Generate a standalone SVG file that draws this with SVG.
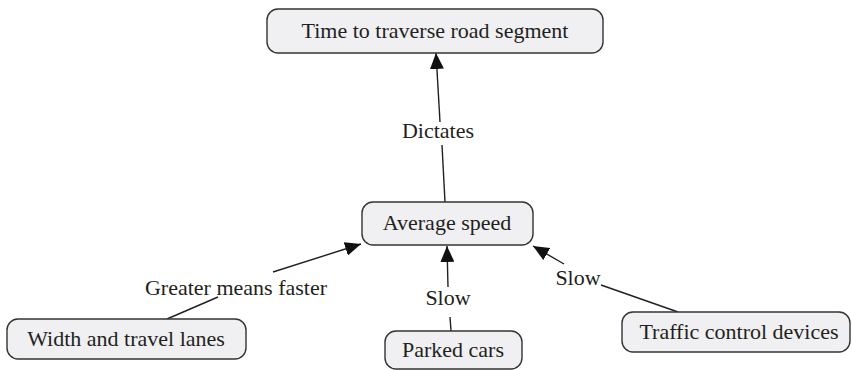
<svg xmlns="http://www.w3.org/2000/svg" width="852" height="370" viewBox="0 0 852 370">
<style>
.node rect{fill:#f0f0f2;stroke:#333;stroke-width:1.4}
text{font-family:"Liberation Serif","Times New Roman",serif;font-size:22px;fill:#231f20;text-anchor:middle}
.conn line{stroke:#231f20;stroke-width:1.4}
</style>
<defs>
<marker id="ah" viewBox="0 0 16 14" markerWidth="16" markerHeight="14" refX="16" refY="7" orient="auto" markerUnits="userSpaceOnUse">
<path d="M0,0 L16,7 L0,14 z" fill="#111"/>
</marker>
</defs>
<rect width="852" height="370" fill="#fff"/>
<g class="conn">
<line x1="445" y1="202" x2="442" y2="145"/>
<line x1="440" y1="122" x2="436" y2="53" marker-end="url(#ah)"/>
<line x1="167" y1="319" x2="218" y2="297"/>
<line x1="273" y1="272" x2="361" y2="244" marker-end="url(#ah)"/>
<line x1="451" y1="331" x2="450" y2="317"/>
<line x1="448" y1="287" x2="447" y2="246" marker-end="url(#ah)"/>
<line x1="678" y1="312" x2="601" y2="285"/>
<line x1="564" y1="264" x2="533" y2="246" marker-end="url(#ah)"/>
<text x="438" y="138">Dictates</text>
<text x="236" y="295">Greater means faster</text>
<text x="448" y="305">Slow</text>
<text x="578" y="285">Slow</text>
</g>
<g id="n_time" class="node">
<rect x="267" y="9" width="336" height="44" rx="11"/>
<text x="435" y="38">Time to traverse road segment</text>
</g>
<g id="n_avg" class="node">
<rect x="362" y="202" width="171" height="43" rx="11"/>
<text x="447" y="230">Average speed</text>
</g>
<g id="n_width" class="node">
<rect x="7" y="319" width="239" height="40" rx="11"/>
<text x="126" y="346">Width and travel lanes</text>
</g>
<g id="n_parked" class="node">
<rect x="385" y="331" width="137" height="38" rx="11"/>
<text x="453" y="357">Parked cars</text>
</g>
<g id="n_traffic" class="node">
<rect x="622" y="312" width="228" height="40" rx="11"/>
<text x="739" y="339">Traffic control devices</text>
</g>
</svg>
